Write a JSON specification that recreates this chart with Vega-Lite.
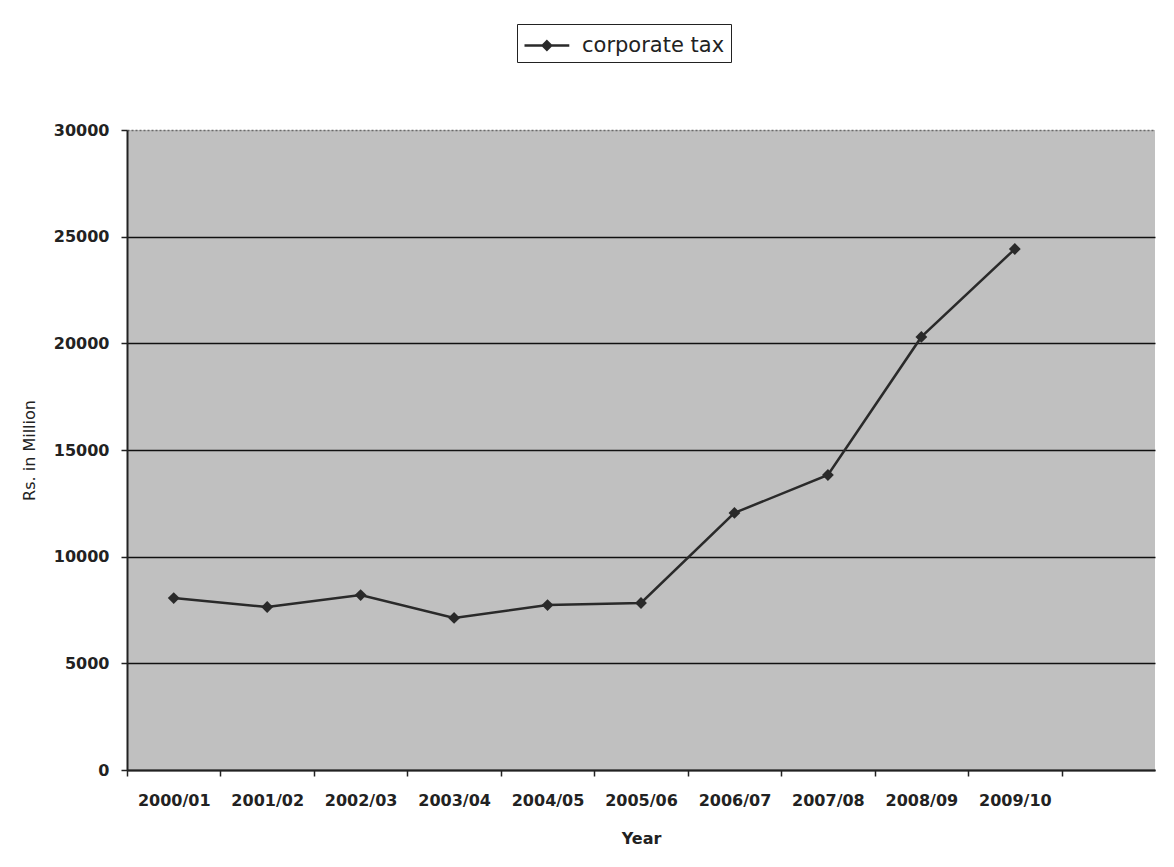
{
  "$schema": "https://vega.github.io/schema/vega-lite/v6.json",
  "width": 1028,
  "height": 640,
  "autosize": {"type": "none"},
  "padding": {"left": 127, "top": 130, "right": 19, "bottom": 97},
  "background": "white",
  "config": {
    "view": {"fill": "#c0c0c0", "stroke": null},
    "font": "DejaVu Sans"
  },
  "data": {
    "values": [
      {"year": "2000/01", "value": 8060, "series": "corporate tax"},
      {"year": "2001/02", "value": 7640, "series": "corporate tax"},
      {"year": "2002/03", "value": 8200, "series": "corporate tax"},
      {"year": "2003/04", "value": 7130, "series": "corporate tax"},
      {"year": "2004/05", "value": 7730, "series": "corporate tax"},
      {"year": "2005/06", "value": 7830, "series": "corporate tax"},
      {"year": "2006/07", "value": 12050, "series": "corporate tax"},
      {"year": "2007/08", "value": 13830, "series": "corporate tax"},
      {"year": "2008/09", "value": 20300, "series": "corporate tax"},
      {"year": "2009/10", "value": 24420, "series": "corporate tax"}
    ]
  },
  "encoding": {
    "x": {
      "field": "year",
      "type": "ordinal",
      "scale": {
        "type": "point",
        "padding": 0.5,
        "domain": ["2000/01", "2001/02", "2002/03", "2003/04", "2004/05", "2005/06", "2006/07", "2007/08", "2008/09", "2009/10", " "]
      },
      "axis": {
        "title": "Year",
        "titleFontSize": 16,
        "titleFontWeight": "bold",
        "titlePadding": 22,
        "titleColor": "#222",
        "labelAngle": 0,
        "labelFontSize": 16,
        "labelFontWeight": "bold",
        "labelColor": "#222",
        "labelPadding": 16,
        "tickOffset": -46.73,
        "labelOffset": 46.73,
        "tickSize": 6,
        "tickColor": "#222",
        "tickWidth": 1.5,
        "domainColor": "#222",
        "domainWidth": 2,
        "grid": false
      }
    },
    "y": {
      "field": "value",
      "type": "quantitative",
      "scale": {"domain": [0, 30000], "nice": false},
      "axis": {
        "title": "Rs. in Million",
        "titleFontSize": 16,
        "titleFontWeight": "normal",
        "titleColor": "#222",
        "titlePadding": 16,
        "format": "d",
        "values": [0, 5000, 10000, 15000, 20000, 25000, 30000],
        "labelFontSize": 16,
        "labelFontWeight": "bold",
        "labelColor": "#222",
        "labelPadding": 12,
        "tickSize": 6,
        "tickColor": "#222",
        "tickWidth": 1.5,
        "domainColor": "#222",
        "domainWidth": 2,
        "grid": true,
        "gridColor": {"condition": {"test": "datum.value === 30000", "value": "#6a6a6a"}, "value": "#111"},
        "gridDash": {"condition": {"test": "datum.value === 30000", "value": [2, 2]}, "value": []},
        "gridWidth": 1.5
      }
    },
    "color": {
      "field": "series",
      "type": "nominal",
      "scale": {"range": ["#2a2a2a"]},
      "legend": {
        "title": null,
        "orient": "none",
        "legendX": 390,
        "legendY": -106,
        "strokeColor": "#222",
        "fillColor": "white",
        "padding": 6,
        "labelFontSize": 21,
        "labelColor": "#222",
        "labelOffset": 28,
        "symbolType": "M-1,0H2.2M0.6,-0.3L0.9,0L0.6,0.3L0.3,0Z",
        "symbolSize": 784,
        "symbolStrokeWidth": 2.5,
        "symbolFillColor": "#2a2a2a",
        "symbolStrokeColor": "#2a2a2a"
      }
    }
  },
  "layer": [
    {"mark": {"type": "line", "strokeWidth": 2.5}},
    {"mark": {"type": "point", "shape": "diamond", "filled": true, "size": 140, "opacity": 1}}
  ]
}
